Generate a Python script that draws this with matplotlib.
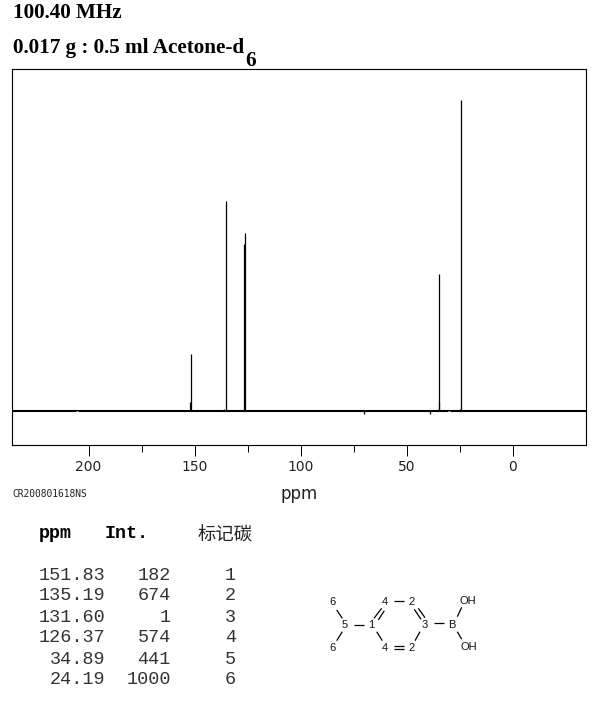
import matplotlib
matplotlib.use("Agg")
import matplotlib.pyplot as plt

# --- peak table, as printed under the spectrum ---
ppm = [151.83, 135.19, 131.60, 126.37, 34.89, 24.19]
intensity = [182, 674, 1, 574, 441, 1000]
carbon = [1, 2, 3, 4, 5, 6]

# shoulders and baseline specks
shoulder_ppm = [152.2, 136.0, 126.7, 34.6, 24.6, 70.0, 39.0]
shoulder_int = [30, 8, 537, 30, 6, -9, -9]
gap_ppm = [205.7, 29.8]

major_ticks = [200, 150, 100, 50, 0]
minor_ticks = [175, 125, 75, 25]

# molecule drawing, in picture pixels
atom_labels = ["6", "5", "1", "4", "2", "3", "B", "OH", "6", "4", "2", "OH"]
atom_x = [332, 345, 371, 385, 412, 425, 452, 468, 332, 385, 412, 469]
atom_y = [602, 625, 625, 602, 602, 625, 625, 601, 648, 648, 648, 647]
bonds = [
    ((336.7, 610), (342.3, 618.3)),
    ((336.7, 640.7), (342.3, 631.7)),
    ((354.3, 624.7), (364, 624.7)),
    ((374, 618.3), (381.7, 608.3)),
    ((378.3, 620), (384.3, 610.7)),
    ((376.7, 631.7), (382.3, 640.7)),
    ((394.3, 601), (404.3, 601)),
    ((414.3, 609.3), (421, 619.3)),
    ((418.3, 608.3), (425, 617.7)),
    ((434.3, 623.3), (444.3, 623.3)),
    ((457.3, 616.7), (461.7, 607.3)),
    ((457.3, 631.7), (461.7, 639.3)),
    ((420, 631.7), (415, 640.7)),
    ((394.3, 646), (404.3, 646)),
    ((394.3, 649.3), (404.3, 649.3)),
]

W, H = 595, 709
fig = plt.figure(figsize=(W / 100, H / 100), dpi=100, facecolor="white")

# spectrum
left, right, top, bottom = 12, 586, 69, 445
ax = fig.add_axes([left / W, 1 - bottom / H, (right - left) / W, (bottom - top) / H])
ax.set_xlim(236.13, -34.63)
ax.set_ylim(-109, 1100)
ax.axhline(0, color="black", lw=1.5, zorder=1)
ax.vlines(ppm, 0, intensity, color="black", lw=0.9, zorder=2)
ax.vlines(shoulder_ppm, 0, shoulder_int, color="black", lw=0.9, zorder=2)
ax.vlines(gap_ppm, -8, 0, color="white", lw=2, zorder=3)
ax.set_yticks([])
ax.set_xticks(major_ticks)
ax.set_xticks(minor_ticks, minor=True)
ax.tick_params(axis="x", which="major", length=8, width=0.7, pad=3, labelsize=10)
ax.tick_params(axis="x", which="minor", length=5, width=0.7)
for lab in ax.get_xticklabels():
    lab.set_family("DejaVu Sans")
    lab.set_color("#222222")
for s in ax.spines.values():
    s.set_linewidth(0.8)

# overlay in picture pixels for all the loose text
ov = fig.add_axes([0, 0, 1, 1], facecolor="none")
ov.set_xlim(0, W)
ov.set_ylim(H, 0)
ov.axis("off")

serif = "Liberation Serif"
mono = "Liberation Mono"
ov.text(13, 18, "100.40 MHz", family=serif, weight="bold", fontsize=15.2, va="baseline")
ov.text(13, 53, "0.017 g : 0.5 ml Acetone-d", family=serif, weight="bold", fontsize=15.2, va="baseline")
ov.text(245.5, 66, "6", family=serif, weight="bold", fontsize=15.2, va="baseline")

ov.text(12, 494, "CR200801618NS", family="DejaVu Sans Mono", fontsize=6.9, va="center", color="#222222")
ov.text(299.5, 494, "ppm", family="DejaVu Sans", fontsize=12, va="center", ha="center", color="#222222")

# table
ov.text(39, 533, "ppm", family=mono, weight="bold", fontsize=13.2, va="center")
ov.text(105, 533, "Int.", family=mono, weight="bold", fontsize=13.2, va="center")
ov.text(198, 535.5, "标记碳", family=["Noto Sans CJK SC", "DejaVu Sans"], fontsize=13.2, va="center", color="#222222")
row_y = 575
for p, i, c in zip(ppm, intensity, carbon):
    ov.text(105, row_y, f"{p:.2f}", family=mono, fontsize=13.3, va="center", ha="right", color="#333333")
    ov.text(171, row_y, str(i), family=mono, fontsize=13.3, va="center", ha="right", color="#333333")
    ov.text(236, row_y, str(c), family=mono, fontsize=13.3, va="center", ha="right", color="#333333")
    row_y += 21

# molecule
for (a, b) in bonds:
    ov.plot([a[0], b[0]], [a[1], b[1]], color="black", lw=0.9, solid_capstyle="butt")
for t, x, y in zip(atom_labels, atom_x, atom_y):
    ov.text(x, y, t, family="Liberation Sans", fontsize=8, ha="center", va="center", color="#111111")

fig.savefig("out.png", dpi=100, facecolor="white")
